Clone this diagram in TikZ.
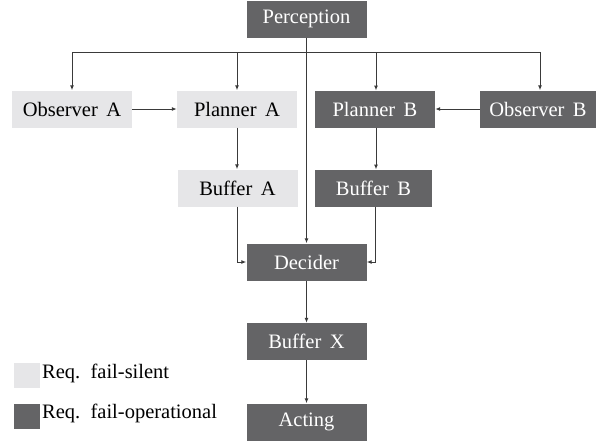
\documentclass[tikz,border=0pt]{standalone}
\usepackage{fontspec}
\setmainfont{Liberation Serif}
\newfontfamily\timesfont{Liberation Serif}
\usetikzlibrary{arrows.meta}
\definecolor{darkbox}{HTML}{646466}
\definecolor{lightbox}{HTML}{E6E6E8}
\definecolor{linecol}{HTML}{3A3A3A}
\begin{document}
\begin{tikzpicture}[x=1pt,y=-1pt,
  every node/.style={font=\timesfont\fontsize{20.5}{24}\selectfont, inner sep=0pt},
  opbox/.style={fill=darkbox, text=white, minimum width=120pt, minimum height=37pt},
  silbox/.style={fill=lightbox, text=black, minimum width=120pt, minimum height=37pt},
  conn/.style={draw=linecol, line width=1pt, -{Latex[length=5pt,width=4pt]}},
  plain/.style={draw=linecol, line width=1pt}
]
\useasboundingbox (0,0) rectangle (603,440);
\node[opbox] (perc) at (306.5,19) {Perception};
\node[silbox] (obsA) at (72,109) {Observer\, A};
\node[silbox] (planA) at (237,109) {Planner\, A};
\node[opbox] (planB) at (375,109) {Planner\, B};
\node[opbox, minimum width=116pt] (obsB) at (538,109) {Observer\, B};
\node[silbox] (bufA) at (237.5,188) {Buffer\, A};
\node[opbox, minimum width=117pt] (bufB) at (373.5,188) {Buffer\, B};
\node[opbox] (dec) at (306.5,262) {Decider};
\node[opbox] (bufX) at (306.5,341.5) {Buffer\, X};
\node[opbox] (act) at (306.5,422) {Acting};
% legend
\node[fill=lightbox, minimum width=26pt, minimum height=25pt] (legS) at (27,375.5) {};
\node[fill=darkbox, minimum width=26pt, minimum height=25pt] (legO) at (27,416) {};
\node[anchor=west] (legSt) at (42,373) {Req.\, fail-silent};
\node[anchor=west] (legOt) at (42,413) {Req.\, fail-operational};
% connectors
\coordinate (hl) at (72,52);
\coordinate (hr) at (540,52);
\draw[plain] (hl) -- (hr);
\draw[conn] (perc.south) -- (dec.north);
\draw[conn] (hl) -- (obsA.north);
\draw[conn] (237,52) -- (planA.north);
\draw[conn] (376,52) -- (376,90.5);
\draw[conn] (hr) -- (hr |- obsB.north);
\draw[conn] (obsA.east) -- (planA.west);
\draw[conn] (obsB.west) -- (planB.east);
\draw[conn] (planA.south) -- (bufA.north -| planA.south);
\draw[conn] (376,127.5) -- (376,169.5);
\draw[conn] (237,206.5) |- (dec.west);
\draw[conn] (375,206.5) |- (dec.east);
\draw[conn] (dec.south) -- (bufX.north);
\draw[conn] (bufX.south) -- (act.north);
\end{tikzpicture}
\end{document}
